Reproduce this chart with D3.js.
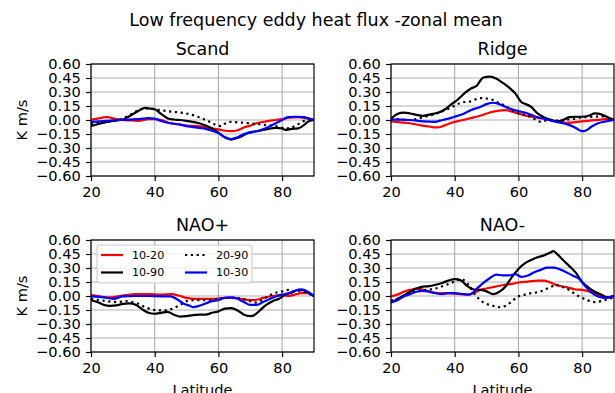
<!DOCTYPE html>
<html>
<head>
<meta charset="utf-8">
<script src="https://cdn.jsdelivr.net/npm/d3@7"></script>
<style>
  body { margin: 0; background: #fff; }
  svg { display: block; font-family: "DejaVu Sans", sans-serif; }
</style>
</head>
<body>
<div id="chart"></div>
<script>
// latitude / heat flux pairs
const scandRed = [[20,0.0],[22,0.015],[25,0.03],[28,0.01],[30,0.0],[33,-0.005],[35,-0.01],[38,0.01],[40,0.01],[42,0.0],[45,-0.035],[48,-0.05],[50,-0.06],[53,-0.065],[55,-0.07],[58,-0.09],[60,-0.1],[62,-0.115],[64,-0.12],[66,-0.11],[68,-0.08],[70,-0.06],[72,-0.035],[75,-0.015],[78,0.0],[80,0.01],[82,0.025],[85,0.03],[88,0.015],[90,0.0]];
const scandBlack = [[20,-0.065],[22,-0.045],[25,-0.02],[28,-0.005],[30,0.005],[32,0.04],[35,0.1],[37,0.13],[38,0.125],[40,0.115],[42,0.065],[44,0.02],[46,0.005],[48,0.0],[50,-0.01],[54,-0.035],[56,-0.06],[58,-0.09],[60,-0.135],[62,-0.185],[64,-0.21],[65,-0.2],[67,-0.18],[68,-0.16],[70,-0.13],[73,-0.115],[75,-0.1],[78,-0.085],[80,-0.09],[81,-0.105],[83,-0.095],[85,-0.09],[87,-0.05],[88,-0.02],[90,0.0]];
const scandDotted = [[20,-0.04],[23,-0.03],[25,-0.02],[28,-0.005],[30,0.015],[33,0.07],[36,0.12],[38,0.125],[40,0.115],[42,0.105],[45,0.09],[48,0.08],[50,0.07],[53,0.04],[55,0.015],[57,-0.015],[59,-0.05],[61,-0.065],[62,-0.04],[64,-0.02],[66,-0.025],[70,-0.035],[75,-0.055],[78,-0.065],[81,-0.09],[83,-0.08],[85,-0.045],[87,-0.01],[90,0.0]];
const scandBlue = [[20,-0.02],[25,-0.01],[28,0.0],[30,0.0],[35,0.01],[38,0.02],[40,0.015],[42,-0.01],[45,-0.035],[48,-0.05],[50,-0.065],[54,-0.085],[56,-0.095],[58,-0.115],[60,-0.14],[62,-0.185],[64,-0.205],[66,-0.185],[68,-0.15],[70,-0.135],[72,-0.12],[75,-0.085],[78,-0.035],[80,0.0],[82,0.03],[84,0.035],[87,0.03],[88,0.02],[90,0.0]];

const ridgeRed = [[20,-0.015],[23,-0.025],[26,-0.035],[29,-0.055],[32,-0.07],[34,-0.08],[35,-0.078],[37,-0.055],[39,-0.03],[42,-0.005],[45,0.02],[48,0.045],[51,0.08],[54,0.1],[56,0.105],[58,0.09],[60,0.07],[62,0.05],[65,0.03],[68,0.015],[70,0.0],[73,-0.02],[75,-0.03],[78,-0.022],[80,-0.015],[83,-0.005],[86,0.005],[88,0.012],[90,0.0]];
const ridgeBlack = [[20,0.015],[22,0.065],[24,0.08],[26,0.07],[28,0.055],[30,0.045],[33,0.065],[35,0.08],[37,0.115],[39,0.17],[41,0.22],[43,0.285],[45,0.335],[47,0.37],[48,0.42],[49,0.455],[51,0.465],[53,0.445],[55,0.4],[57,0.35],[59,0.285],[61,0.19],[62,0.175],[64,0.14],[66,0.07],[68,0.03],[70,0.005],[72,-0.015],[74,0.0],[76,0.03],[78,0.035],[80,0.035],[82,0.045],[84,0.07],[86,0.06],[88,0.03],[90,0.0]];
const ridgeDotted = [[20,0.015],[23,0.005],[26,0.0],[28,0.01],[30,0.03],[33,0.055],[35,0.08],[38,0.12],[40,0.155],[42,0.185],[45,0.2],[48,0.235],[50,0.23],[52,0.215],[54,0.18],[56,0.15],[58,0.105],[60,0.07],[62,0.055],[64,0.03],[66,-0.005],[67,-0.02],[68,-0.008],[70,0.0],[73,-0.008],[76,0.008],[78,0.015],[80,0.03],[82,0.03],[84,0.035],[86,0.04],[88,0.02],[90,0.0]];
const ridgeBlue = [[20,0.005],[23,0.005],[26,0.0],[30,-0.015],[34,-0.02],[35,-0.01],[38,0.015],[40,0.035],[43,0.07],[45,0.105],[48,0.14],[50,0.17],[52,0.185],[54,0.17],[56,0.14],[58,0.115],[60,0.095],[62,0.08],[64,0.055],[66,0.03],[68,0.015],[70,-0.005],[72,-0.02],[74,-0.035],[76,-0.055],[78,-0.085],[80,-0.12],[81,-0.115],[83,-0.07],[85,-0.035],[87,-0.018],[90,0.0]];

const naoPlusRed = [[20,0.01],[23,-0.005],[26,-0.015],[28,-0.005],[31,0.01],[34,0.02],[38,0.02],[42,0.015],[45,0.02],[48,0.0],[50,-0.02],[53,-0.03],[56,-0.03],[59,-0.03],[62,-0.02],[64,-0.02],[67,-0.03],[70,-0.045],[72,-0.04],[74,-0.02],[77,0.0],[80,0.012],[82,0.0],[84,0.015],[86,0.03],[88,0.03],[90,0.0]];
const naoPlusBlack = [[20,-0.045],[22,-0.065],[24,-0.095],[26,-0.105],[28,-0.1],[30,-0.085],[32,-0.08],[34,-0.095],[36,-0.14],[38,-0.18],[40,-0.19],[42,-0.18],[44,-0.17],[46,-0.2],[48,-0.22],[50,-0.215],[52,-0.205],[54,-0.2],[56,-0.2],[58,-0.18],[60,-0.165],[62,-0.135],[64,-0.13],[66,-0.155],[68,-0.2],[70,-0.215],[71,-0.21],[73,-0.155],[75,-0.095],[77,-0.055],[79,-0.03],[81,0.015],[83,0.035],[85,0.065],[87,0.06],[88,0.04],[90,0.0]];
const naoPlusDotted = [[20,-0.03],[22,-0.04],[25,-0.055],[28,-0.065],[31,-0.055],[33,-0.065],[35,-0.085],[37,-0.12],[40,-0.15],[42,-0.155],[44,-0.15],[46,-0.13],[48,-0.095],[50,-0.055],[53,-0.045],[56,-0.045],[59,-0.035],[62,-0.02],[65,-0.02],[68,-0.035],[70,-0.055],[72,-0.07],[74,-0.035],[76,0.005],[78,0.035],[80,0.05],[82,0.065],[84,0.05],[86,0.055],[88,0.03],[90,0.0]];
const naoPlusBlue = [[20,-0.005],[24,-0.015],[27,-0.03],[30,-0.005],[34,0.0],[38,0.0],[42,-0.003],[45,-0.003],[47,-0.035],[49,-0.08],[51,-0.105],[52,-0.12],[54,-0.105],[56,-0.08],[58,-0.055],[60,-0.045],[62,-0.02],[64,-0.015],[66,-0.03],[68,-0.065],[70,-0.095],[72,-0.095],[74,-0.065],[76,-0.035],[78,-0.005],[80,0.015],[82,0.03],[84,0.055],[86,0.07],[87,0.065],[88,0.045],[90,0.0]];

const naoMinusRed = [[20,-0.005],[22,0.015],[24,0.045],[26,0.065],[28,0.08],[30,0.07],[32,0.05],[35,0.03],[38,0.03],[41,0.022],[44,0.015],[46,0.03],[48,0.065],[50,0.08],[52,0.095],[55,0.115],[58,0.13],[60,0.145],[63,0.155],[66,0.165],[68,0.165],[70,0.145],[72,0.115],[75,0.095],[78,0.07],[80,0.065],[82,0.05],[85,0.015],[88,-0.015],[90,0.0]];
const naoMinusBlack = [[20,-0.07],[22,-0.035],[24,0.005],[26,0.045],[28,0.08],[30,0.1],[32,0.105],[34,0.12],[36,0.14],[38,0.165],[40,0.18],[42,0.165],[44,0.105],[46,0.07],[48,0.065],[50,0.05],[52,0.02],[54,0.045],[56,0.105],[58,0.205],[60,0.29],[62,0.35],[64,0.385],[66,0.415],[68,0.435],[70,0.465],[71,0.48],[72,0.455],[74,0.385],[76,0.32],[78,0.25],[80,0.15],[82,0.09],[84,0.045],[86,0.015],[88,-0.015],[90,0.0]];
const naoMinusDotted = [[20,-0.05],[22,-0.03],[25,0.015],[28,0.05],[31,0.065],[34,0.08],[37,0.115],[40,0.155],[42,0.18],[44,0.135],[46,0.035],[48,-0.045],[50,-0.085],[52,-0.105],[54,-0.12],[56,-0.105],[58,-0.055],[60,-0.005],[62,0.015],[64,0.03],[67,0.05],[70,0.095],[72,0.12],[74,0.095],[76,0.065],[78,0.015],[80,-0.02],[82,-0.05],[84,-0.065],[86,-0.055],[88,-0.035],[90,-0.015]];
const naoMinusBlue = [[20,-0.07],[22,-0.045],[24,-0.005],[26,0.02],[28,0.045],[30,0.055],[32,0.045],[34,0.03],[36,0.02],[38,0.03],[40,0.03],[42,0.022],[44,0.015],[45,0.02],[47,0.08],[49,0.14],[51,0.19],[53,0.23],[55,0.22],[57,0.22],[59,0.235],[61,0.205],[63,0.22],[65,0.255],[67,0.28],[69,0.305],[71,0.305],[73,0.285],[75,0.255],[77,0.22],[79,0.185],[81,0.105],[83,0.035],[85,-0.005],[87,-0.02],[89,-0.01],[90,0.0]];

const panelTitles = ["Scand", "Ridge", "NAO+", "NAO-"];
const seriesLabels = ["10-20", "10-90", "20-90", "10-30"];
const panelData = [
  [scandRed, scandBlack, scandDotted, scandBlue],
  [ridgeRed, ridgeBlack, ridgeDotted, ridgeBlue],
  [naoPlusRed, naoPlusBlack, naoPlusDotted, naoPlusBlue],
  [naoMinusRed, naoMinusBlack, naoMinusDotted, naoMinusBlue]
];
const xTicks = [20, 40, 60, 80];
const yTicks = [-0.6, -0.45, -0.3, -0.15, 0, 0.15, 0.3, 0.45, 0.6];

const styles = [
  { color: "#ff0000", dash: null },
  { color: "#000000", dash: null },
  { color: "#000000", dash: "2.2,3.6" },
  { color: "#0000ff", dash: null }
];

const W = 615, H = 393;
const colX = [91, 391], rowY = [64, 240];
const pw = 223, ph = 112;
const tickFont = "14.6px", titleFont = "17.5px";

const svg = d3.select("#chart").append("svg")
  .attr("width", W).attr("height", H);

svg.append("text")
  .attr("x", 316).attr("y", 26)
  .attr("text-anchor", "middle")
  .style("font-size", titleFont)
  .text("Low frequency eddy heat flux -zonal mean");

const fmt = d => d3.format(".2f")(d).replace("-", "\u2212");

panelData.forEach((series, i) => {
  const col = i % 2, row = Math.floor(i / 2);
  const g = svg.append("g")
    .attr("transform", `translate(${colX[col]},${rowY[row]})`);

  const x = d3.scaleLinear().domain([20, 90]).range([0, pw]);
  const y = d3.scaleLinear().domain([-0.6, 0.6]).range([ph, 0]);

  // grid
  g.append("g").selectAll("line").data(xTicks).join("line")
    .attr("x1", d => x(d)).attr("x2", d => x(d))
    .attr("y1", 0).attr("y2", ph)
    .attr("stroke", "#b0b0b0").attr("stroke-width", 1.15);
  g.append("g").selectAll("line").data(yTicks).join("line")
    .attr("x1", 0).attr("x2", pw)
    .attr("y1", d => y(d)).attr("y2", d => y(d))
    .attr("stroke", "#b0b0b0").attr("stroke-width", 1.15);

  g.append("clipPath").attr("id", "clip" + i)
    .append("rect").attr("width", pw).attr("height", ph);

  const line = d3.line()
    .x(d => x(d[0])).y(d => y(d[1]))
    .curve(d3.curveMonotoneX);

  series.forEach((pts, k) => {
    g.append("path")
      .attr("clip-path", `url(#clip${i})`)
      .attr("d", line(pts))
      .attr("fill", "none")
      .attr("stroke", styles[k].color)
      .attr("stroke-width", 2.2)
      .attr("stroke-dasharray", styles[k].dash);
  });

  // frame
  g.append("rect").attr("width", pw).attr("height", ph)
    .attr("fill", "none").attr("stroke", "#000").attr("stroke-width", 1.15);

  const xAxis = g.append("g").attr("transform", `translate(0,${ph})`)
    .call(d3.axisBottom(x).tickValues(xTicks).tickSize(5.1).tickPadding(5.1));
  const yAxis = g.append("g")
    .call(d3.axisLeft(y).tickValues(yTicks).tickFormat(fmt).tickSize(5.1).tickPadding(5.1));
  [xAxis, yAxis].forEach(a => {
    a.select(".domain").remove();
    a.selectAll(".tick line").attr("stroke", "#000").attr("stroke-width", 1.15);
    a.selectAll(".tick text")
      .style("font-size", tickFont)
      .style("font-family", "DejaVu Sans")
      .attr("fill", "#000");
  });

  g.append("text")
    .attr("x", pw / 2).attr("y", -8.75)
    .attr("text-anchor", "middle")
    .style("font-size", titleFont)
    .text(panelTitles[i]);

  if (col === 0) {
    g.append("text")
      .attr("transform", `translate(${22 - colX[0]},${ph / 2}) rotate(-90)`)
      .attr("text-anchor", "middle")
      .attr("dy", "0.35em")
      .style("font-size", tickFont)
      .text("K m/s");
  }
  if (row === 1) {
    g.append("text")
      .attr("x", pw / 2).attr("y", ph + 43)
      .attr("text-anchor", "middle")
      .style("font-size", tickFont)
      .text("Latitude");
  }

  // legend in NAO+ panel
  if (i === 2) {
    const lg = g.append("g").attr("transform", "translate(6,5)");
    lg.append("rect")
      .attr("width", 155).attr("height", 38)
      .attr("rx", 2.5)
      .attr("fill", "#fff").attr("fill-opacity", 0.8)
      .attr("stroke", "#cccccc").attr("stroke-width", 1.1);
    seriesLabels.forEach((lab, k) => {
      const c = Math.floor(k / 2), r = k % 2;
      const ex = 4 + c * 84, ey = 10 + r * 17.5;
      lg.append("line")
        .attr("x1", ex).attr("x2", ex + 22)
        .attr("y1", ey).attr("y2", ey)
        .attr("stroke", styles[k].color)
        .attr("stroke-width", 2.2)
        .attr("stroke-dasharray", styles[k].dash);
      lg.append("text")
        .attr("x", ex + 31).attr("y", ey)
        .attr("dy", "0.35em")
        .style("font-size", "11.1px")
        .text(lab);
    });
  }
});
</script>
</body>
</html>
